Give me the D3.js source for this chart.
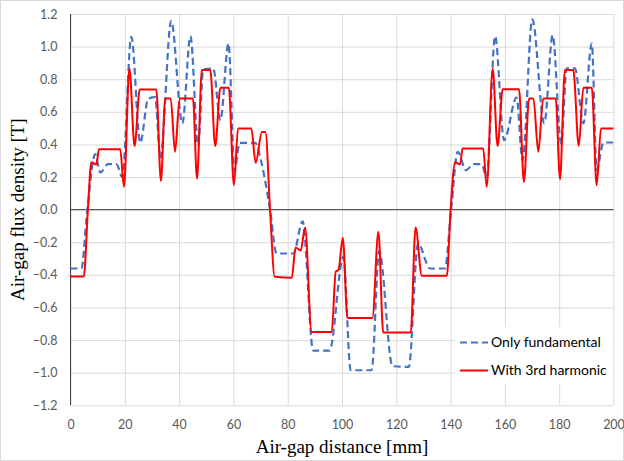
<!DOCTYPE html>
<html>
<head>
<meta charset="utf-8">
<script src="https://cdn.jsdelivr.net/npm/d3@7"></script>
<style>
  body { margin: 0; background: #fff; }
  text { font-family: Lato, "Open Sans", sans-serif; }
</style>
</head>
<body>
<svg id="chart" width="624" height="461"></svg>
<script>
// values, [distance mm, flux density T]
const withThird = [
    [0, -0.41], [4.9, -0.41], [6.4, 0], [7.7, 0.29], [9.5, 0.277], [10.5, 0.37], [18.3, 0.37],
    [19.7, 0.14], [21.7, 0.866], [23.6, 0.39], [25.5, 0.737], [31.6, 0.737], [33.3, 0.175],
    [34.9, 0.682], [36.9, 0.682], [38.5, 0.355], [40.2, 0.682], [45.1, 0.682], [46.6, 0.19],
    [48.4, 0.856], [51.5, 0.856], [53.3, 0.39], [55.2, 0.747], [58.3, 0.747], [60.2, 0.15],
    [61.7, 0.498], [66.6, 0.498], [68.2, 0.287], [70.5, 0.477], [71.8, 0.477], [73.5, 0],
    [75.2, -0.412], [81.5, -0.418], [82.9, -0.232], [84.8, -0.25], [86.4, -0.11], [88.8, -0.75],
    [96.2, -0.75], [97.7, -0.38], [98.7, -0.37], [100.3, -0.173], [102, -0.664], [111.2, -0.664],
    [113.4, -0.136], [115.2, -0.754], [125.3, -0.754], [127.1, -0.109], [129.4, -0.406],
    [138.6, -0.406], [140, 0], [141.7, 0.293], [143.5, 0.277], [144.4, 0.375], [152, 0.375],
    [153.3, 0.14], [155.5, 0.866], [157.3, 0.39], [159.2, 0.739], [165.2, 0.739], [167, 0.17],
    [168.9, 0.682], [170.5, 0.682], [172.3, 0.355], [174.1, 0.682], [178.7, 0.682], [180.3, 0.187],
    [182.1, 0.856], [185.2, 0.856], [187.2, 0.39], [188.9, 0.747], [192, 0.747], [193.8, 0.15],
    [195.4, 0.498], [200, 0.498]
];
const fundamental = [
    [0, -0.361], [4.0, -0.361], [6.2, 0], [9.1, 0.34], [11, 0.228], [13.8, 0.279], [16.9, 0.279],
    [19.1, 0.2], [22.4, 1.06], [25.7, 0.41], [28.6, 0.68], [31.2, 0.69], [33.1, 0.32], [37.1, 1.158],
    [41.2, 0.529], [44.2, 1.065], [47.0, 0.393], [48.9, 0.86], [52.6, 0.866], [55.2, 0.547],
    [58.2, 1.02], [60.4, 0.237], [62.3, 0.41], [68.0, 0.41], [70.3, 0.29], [73.5, 0], [75.9, -0.269],
    [82.1, -0.269], [85.5, -0.072], [89.4, -0.865], [95.4, -0.865], [100.5, -0.29], [103.2, -0.985],
    [110.9, -0.985], [113.7, -0.255], [118.6, -0.96], [124.6, -0.964], [128.0, -0.208],
    [132.4, -0.361], [137.9, -0.361], [140.2, 0], [142.6, 0.355], [145.7, 0.242], [148.4, 0.279],
    [151.4, 0.279], [153.3, 0.2], [156.4, 1.064], [159.7, 0.426], [164.3, 0.688], [166.5, 0.304],
    [170.1, 1.167], [174.5, 0.529], [177.6, 1.07], [180.7, 0.406], [182.8, 0.866], [185.8, 0.866],
    [188.9, 0.529], [192.0, 1.02], [193.8, 0.242], [196.3, 0.412], [200, 0.412]
];
const xTicks = [0, 20, 40, 60, 80, 100, 120, 140, 160, 180, 200];
const yTicks = [-1.2, -1.0, -0.8, -0.6, -0.4, -0.2, 0, 0.2, 0.4, 0.6, 0.8, 1.0, 1.2];
const seriesNames = ["Only fundamental", "With 3rd harmonic"];

let svg = d3.select("#chart");
let margin = {left: 70.5, top: 14, right: 10.5, bottom: 55.7};
let width = 624 - margin.left - margin.right,
    height = 461 - margin.top - margin.bottom;

let x = d3.scaleLinear().domain([0, 200]).range([margin.left, margin.left + width]);
let y = d3.scaleLinear().domain([-1.2, 1.2]).range([margin.top + height, margin.top]);

// outer chart border
svg.append('rect')
    .attr('x', 0.5).attr('y', 0.5).attr('width', 623).attr('height', 460)
    .attr('fill', "#fff").attr('stroke', "#d9d9d9");

// gridlines
svg.append('g')
    .attr('transform', `translate(0,${margin.top + height})`)
    .call(d3.axisBottom(x).tickValues(xTicks).tickSize(-height).tickFormat(""))
    .call(g => g.select(".domain").remove())
    .call(g => g.selectAll("line").attr('stroke', "#d9d9d9"));
svg.append('g')
    .attr('transform', `translate(${margin.left},0)`)
    .call(d3.axisLeft(y).tickValues(yTicks).tickSize(-width).tickFormat(""))
    .call(g => g.select(".domain").remove())
    .call(g => g.selectAll("line").attr('stroke', "#d9d9d9"));

// tick labels: x along the bottom, y on the left
svg.append('g')
    .attr('transform', `translate(0,${margin.top + height})`)
    .call(d3.axisBottom(x).tickValues(xTicks).tickSize(0).tickPadding(15))
    .call(g => g.select(".domain").remove())
    .call(g => g.selectAll("text").attr('fill', "#595959").style('font-size', "12.5px"));
svg.append('g')
    .attr('transform', `translate(${margin.left},0)`)
    .call(d3.axisLeft(y).tickValues(yTicks).tickSize(0).tickPadding(13).tickFormat(d3.format(".1f")))
    .call(g => g.select(".domain").remove())
    .call(g => g.selectAll("text").attr('fill', "#595959").style('font-size', "12.5px"));

// vertical axis line and zero line
svg.append('line')
    .attr('x1', x(0)).attr('x2', x(0)).attr('y1', y(1.2)).attr('y2', y(-1.2))
    .attr('stroke', "#404040");
svg.append('line')
    .attr('x1', x(0)).attr('x2', x(200)).attr('y1', y(0)).attr('y2', y(0))
    .attr('stroke', "#404040");

let line = d3.line()
    .x(d => x(d[0]))
    .y(d => y(d[1]))
    .curve(d3.curveMonotoneX);

svg.append('path')
    .datum(fundamental)
    .attr('d', line)
    .attr('fill', "none")
    .attr('stroke', "#4472c4")
    .attr('stroke-width', 2.2)
    .attr('stroke-dasharray', "7,4");
svg.append('path')
    .datum(withThird)
    .attr('d', line)
    .attr('fill', "none")
    .attr('stroke', "#ff0000")
    .attr('stroke-width', 2);

// legend
let legend = svg.append('g').attr('transform', "translate(455,327)");
legend.append('rect')
    .attr('width', 158).attr('height', 57).attr('fill', "#fff");
let styles = [{stroke: "#4472c4", dash: "7,4", w: 2.2}, {stroke: "#ff0000", dash: null, w: 2}];
seriesNames.forEach((name, i) => {
    let yy = 15.5 + i * 28;
    legend.append('line')
        .attr('x1', 5).attr('x2', 33).attr('y1', yy).attr('y2', yy)
        .attr('stroke', styles[i].stroke)
        .attr('stroke-width', styles[i].w)
        .attr('stroke-dasharray', styles[i].dash);
    legend.append('text')
        .attr('x', 36).attr('y', yy).attr('dy', "0.35em")
        .attr('fill', "#000")
        .style('font-size', "14px")
        .text(name);
});

// axis titles
svg.append('text')
    .attr('x', x(100)).attr('y', 453)
    .attr('text-anchor', "middle")
    .style('font-family', '"Liberation Serif", serif')
    .style('font-size', "19px")
    .text("Air-gap distance [mm]");
svg.append('text')
    .attr('transform', `translate(24,${y(0)}) rotate(-90)`)
    .attr('text-anchor', "middle")
    .style('font-family', '"Liberation Serif", serif')
    .style('font-size', "19px")
    .text("Air-gap flux density [T]");
</script>
</body>
</html>
